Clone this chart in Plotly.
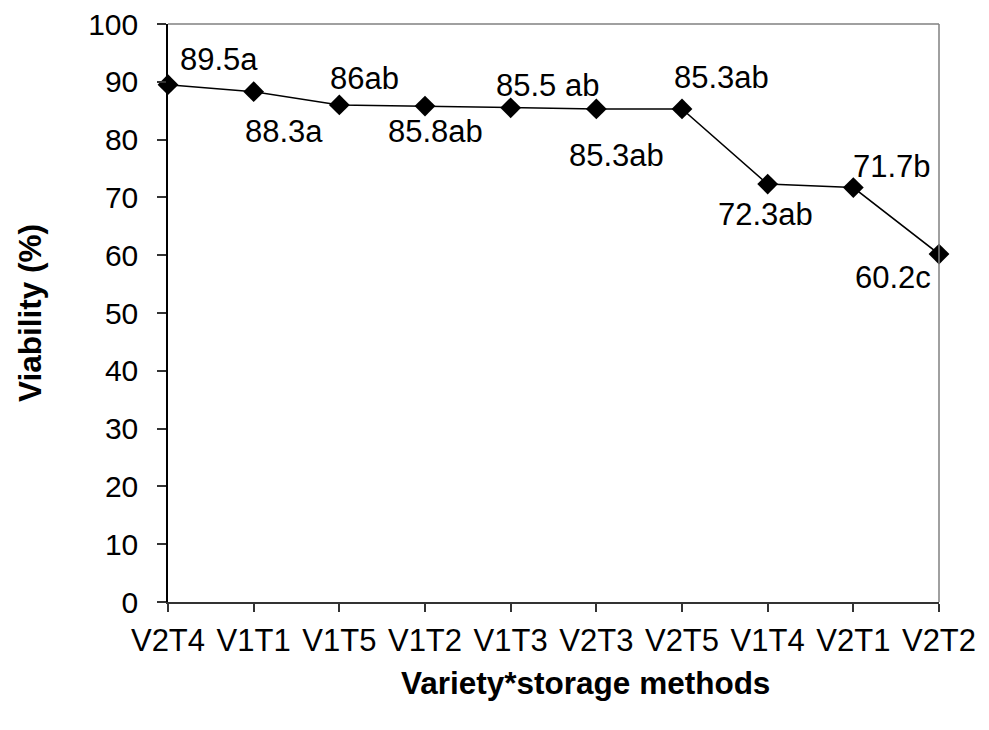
import plotly.graph_objects as go

categories = ["V2T4", "V1T1", "V1T5", "V1T2", "V1T3", "V2T3", "V2T5", "V1T4", "V2T1", "V2T2"]
viability = [89.5, 88.3, 86.0, 85.8, 85.5, 85.3, 85.3, 72.3, 71.7, 60.2]
point_labels = ["89.5a", "88.3a", "86ab", "85.8ab", "85.5 ab", "85.3ab", "85.3ab", "72.3ab", "71.7b", "60.2c"]
y_ticks = list(range(0, 101, 10))

# label pixel offsets (x to right, y upward) relative to each point
label_dx = [51, 30, 25, 10, 37, 20, 39, -2, 39, -46]
label_dy = [25, -40, 26, -25, 22, -47, 31, -30, 21, -23]

FONT = "Liberation Sans, Arial, sans-serif"

fig = go.Figure()
fig.add_trace(go.Scatter(
    x=categories, y=viability, mode="lines+markers",
    line=dict(color="black", width=1.5),
    marker=dict(symbol="diamond", size=16, color="black"),
    showlegend=False, hoverinfo="skip", cliponaxis=False,
))

for c, v, t, dx, dy in zip(categories, viability, point_labels, label_dx, label_dy):
    fig.add_annotation(x=c, y=v, text=t, showarrow=False, xshift=dx, yshift=dy,
                       xanchor="center", yanchor="middle",
                       font=dict(family=FONT, size=31, color="black"))

# axis titles as annotations
fig.add_annotation(xref="paper", yref="paper", x=0.5, y=0, xshift=32, yshift=-81,
                   xanchor="center", yanchor="middle",
                   text="<b>Variety*storage methods</b>", showarrow=False,
                   font=dict(family=FONT, size=31.5, color="black"))
fig.add_annotation(xref="paper", yref="paper", x=0, y=0.5, xshift=-138,
                   xanchor="center", yanchor="middle",
                   text="<b>Viability (%)</b>", textangle=-90, showarrow=False,
                   font=dict(family=FONT, size=31.5, color="black"))

# top and right frame lines (gray)
fig.add_shape(type="line", xref="paper", yref="paper", x0=0, x1=1, y0=1, y1=1,
              line=dict(color="#808080", width=1.5), layer="above")
fig.add_shape(type="line", xref="paper", yref="paper", x0=1, x1=1, y0=0, y1=1,
              line=dict(color="#808080", width=1.5), layer="above")

fig.update_xaxes(type="category", range=[0, 9], showgrid=False, zeroline=False,
                 showline=True, linecolor="#333333", linewidth=1.5,
                 ticks="outside", ticklen=8, tickcolor="#333333", tickwidth=1.5,
                 ticklabelstandoff=2, automargin=False, ticklabeloverflow="allow",
                 tickfont=dict(family=FONT, size=31, color="black"))
fig.update_yaxes(range=[0, 100], tickvals=y_ticks, showgrid=False, zeroline=False,
                 showline=True, linecolor="black", linewidth=1.5,
                 ticks="outside", ticklen=9, tickcolor="#333333", tickwidth=1.5,
                 ticklabelstandoff=13, automargin=False, ticklabeloverflow="allow",
                 tickfont=dict(family=FONT, size=30, color="black"))

fig.update_layout(width=981, height=722, plot_bgcolor="white", paper_bgcolor="white",
                  margin=dict(l=160, r=50, t=16, b=128),
                  font=dict(family=FONT, color="black"))

fig.write_html("out.html")
